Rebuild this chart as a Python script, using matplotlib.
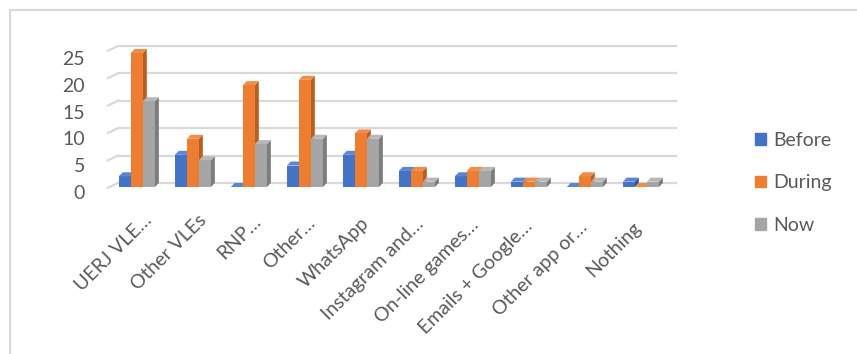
import matplotlib.pyplot as plt
import matplotlib.transforms as mtransforms
from matplotlib.patches import Polygon, Patch, Rectangle

categories = ["UERJ VLE…", "Other VLEs", "RNP…", "Other…", "WhatsApp",
              "Instagram and…", "On-line games…", "Emails + Google…",
              "Other app or…", "Nothing"]
before = [2, 6, 0, 4, 6, 3, 2, 1, 0, 1]
during = [25, 9, 19, 20, 10, 3, 3, 1, 2, 0]
now = [16, 5, 8, 9, 9, 1, 3, 1, 1, 1]
series_names = ["Before", "During", "Now"]
yticks = [0, 5, 10, 15, 20, 25]

front = ["#4472C4", "#ED7D31", "#A5A5A5"]
side = ["#2F5597", "#B85F20", "#7C7C7C"]
top = ["#5B86D6", "#F28C46", "#B8B8B8"]
text_col = "#595959"
grid_col = "#D9D9D9"

plt.rcParams["font.family"] = ["Lato", "DejaVu Sans"]

W, H = 857, 354
fig = plt.figure(figsize=(W / 100, H / 100), dpi=100)

# pixel layout: category i centre at 138 + 56*i, value v at 187 - 5.36*v
xl, xr = -0.6, 9.7
yb, yt = -1.0, 27.0
px_left = 138 + 56 * (xl)
px_right = 138 + 56 * (xr)
py_bot = 187 + 5.36 * 1.0
py_top = 187 - 5.36 * 27.0
ax = fig.add_axes([px_left / W, 1 - py_bot / H,
                   (px_right - px_left) / W, (py_bot - py_top) / H])
ax.set_xlim(xl, xr)
ax.set_ylim(yb, yt)
for s in ax.spines.values():
    s.set_visible(False)

# back-wall gridlines with a little perspective on the left
for v in yticks:
    wy = v * 1.022 + 0.75
    ax.plot([-0.36, 9.6], [wy, wy], color=grid_col, lw=1.6, zorder=0)
    ax.plot([-0.54, -0.36], [wy - 0.9, wy], color=grid_col, lw=1.6, zorder=0)

bw = 0.215
ddx, ddy = 0.07, 0.75
for k, vals in enumerate([before, during, now]):
    xs = [i + (k - 1) * bw - 0.02 for i in range(len(categories))]
    ax.bar(xs, vals, width=bw, color=front[k], zorder=2 + k * 3)
    for x, v in zip(xs, vals):
        x0, x1 = x - bw / 2, x + bw / 2
        ax.add_patch(Polygon([(x1, 0), (x1 + ddx, ddy), (x1 + ddx, v + ddy), (x1, v)],
                             closed=True, color=side[k], lw=0, zorder=1 + k * 3))
        ax.add_patch(Polygon([(x0, v), (x0 + ddx, v + ddy), (x1 + ddx, v + ddy), (x1, v)],
                             closed=True, color=top[k], lw=0, zorder=2 + k * 3))

ax.set_yticks(yticks)
ax.set_yticklabels([str(v) for v in yticks])
ax.tick_params(axis="y", length=0, pad=14, labelsize=14, labelcolor=text_col)
off = mtransforms.ScaledTranslation(0, -5 / 100, fig.dpi_scale_trans)
for lab in ax.get_yticklabels():
    lab.set_transform(lab.get_transform() + off)

ax.set_xticks(range(len(categories)))
ax.set_xticklabels(categories, rotation=45, ha="right", rotation_mode="anchor")
ax.tick_params(axis="x", length=0, pad=12, labelsize=14, labelcolor=text_col)
# front labels sit a bit closer together than the bars (perspective)
for i, lab in enumerate(ax.get_xticklabels()):
    offx = mtransforms.ScaledTranslation((5 - 1.6 * i) / 100, (-2 - 0.9 * i) / 100,
                                         fig.dpi_scale_trans)
    lab.set_transform(lab.get_transform() + offx)

handles = [Patch(color=c) for c in front]
fig.legend(handles, series_names, loc="center left",
           bbox_to_anchor=(755 / W, 1 - 183 / H), frameon=False,
           fontsize=14, labelcolor=text_col, borderpad=0, borderaxespad=0,
           handlelength=0.55, handleheight=0.55, handletextpad=0.4,
           labelspacing=1.3)

# chart area frame (cropped at right and bottom)
fig.add_artist(Rectangle((10 / W, -0.1), 1.2, 1 - 10 / H + 0.1,
                         transform=fig.transFigure, fill=False,
                         edgecolor=grid_col, lw=1.5))

fig.savefig("out.png", dpi=100)
